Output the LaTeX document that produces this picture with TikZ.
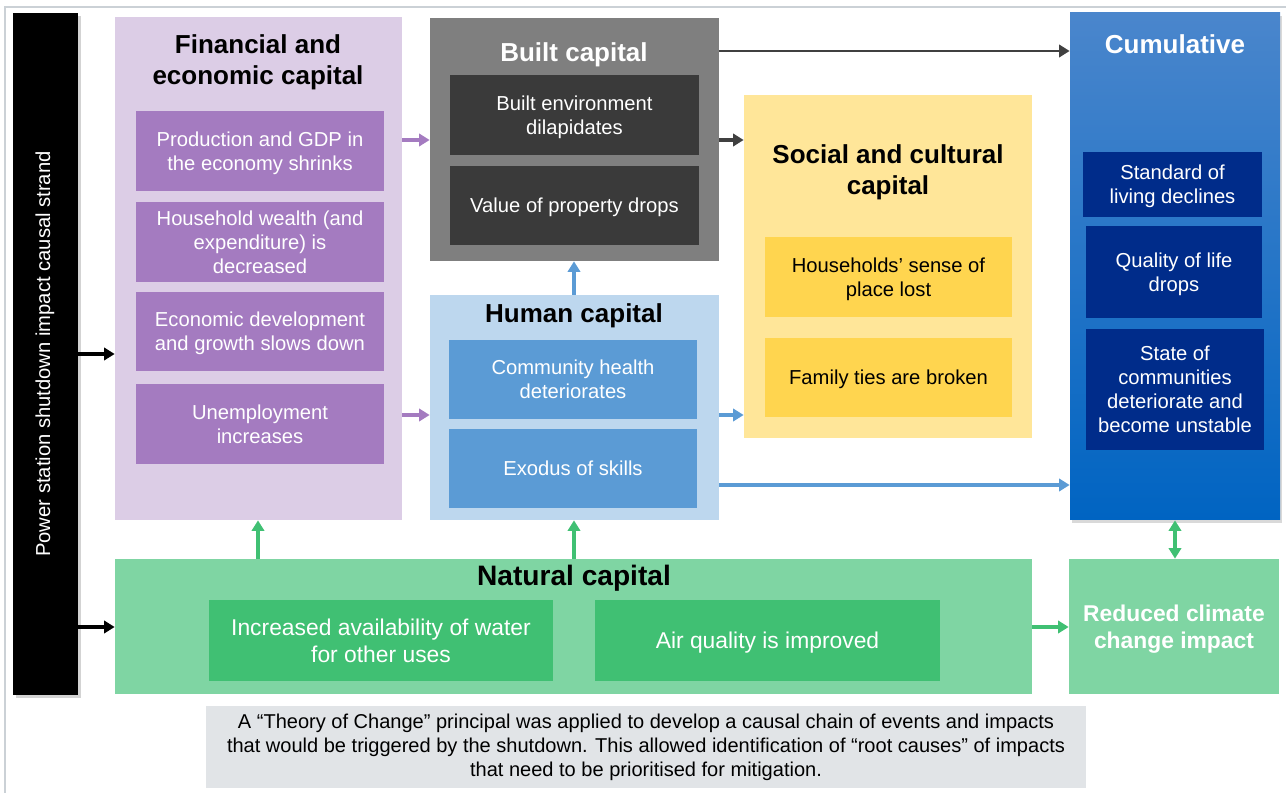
\documentclass[tikz,border=0pt]{standalone}
\usepackage{fontspec}
\setmainfont{Liberation Sans}
\usepackage{tikz}
\usetikzlibrary{arrows.meta,positioning,calc,fit,shadows}
\definecolor{FinBack}{HTML}{DCCDE6}
\definecolor{FinItem}{HTML}{A47BC0}
\definecolor{BuiltBack}{HTML}{7F7F7F}
\definecolor{BuiltItem}{HTML}{3A3A3A}
\definecolor{HumBack}{HTML}{BDD7EE}
\definecolor{HumItem}{HTML}{5B9BD5}
\definecolor{SocBack}{HTML}{FFE699}
\definecolor{SocItem}{HTML}{FFD54F}
\definecolor{CumTop}{HTML}{4A86CC}
\definecolor{CumBottom}{HTML}{0064C2}
\definecolor{CumItem}{HTML}{002C8A}
\definecolor{NatBack}{HTML}{7FD5A3}
\definecolor{NatItem}{HTML}{40C073}
\definecolor{NoteGrey}{HTML}{E1E4E7}
\definecolor{FrameGrey}{HTML}{CBD1D6}
\definecolor{ArrowGrey}{HTML}{404040}

\begin{document}
\begin{tikzpicture}[x=0.02cm, y=-0.02cm,
  every node/.style={font=\fontsize{11.5}{13.6}\selectfont, inner sep=0pt, align=center},
  captitle/.style={font=\bfseries\fontsize{14.8}{17.6}\selectfont},
  item/.style={minimum width=4.96cm, minimum height=1.6cm, text depth=0pt},
  link/.style={line width=2.1pt, -{Triangle[length=6pt,width=7pt]}}]
  \useasboundingbox (0,0) rectangle (1286,793);
  \draw[FrameGrey, line width=1.2pt] (5,793) -- (5,7) -- (1286,7);

  % causal strand
  \node (strand) [fill=black, drop shadow={opacity=0.35, shadow xshift=1.5pt, shadow yshift=-1.5pt}, fit={(13,13) (78,695)}] {};
  \node (strandtext) [rotate=90, text=white] at (45,354) {Power station shutdown impact causal strand};

  % financial and economic capital
  \node (fin) [fill=FinBack, fit={(115,17) (402,520)}] {};
  \node (fintitle) [captitle] at (258,62) {Financial and\\economic capital};
  \node (fin1) [item, fill=FinItem, text=white] at (260,151) {Production and GDP in\\the economy shrinks};
  \node (fin2) [item, fill=FinItem, text=white] at (260,242) {Household wealth (and\\expenditure) is\\decreased};
  \node (fin3) [item, fill=FinItem, text=white] at (260,331.5) {Economic development\\and growth slows down};
  \node (fin4) [item, fill=FinItem, text=white] at (260,424) {Unemployment\\increases};

  % built capital
  \node (built) [fill=BuiltBack, fit={(430,18) (719,261)}] {};
  \node (builttitle) [captitle, text=white] at (574,55) {Built capital};
  \node (built1) [item, minimum width=4.98cm, fill=BuiltItem, text=white] at (574.5,115) {Built environment\\dilapidates};
  \node (built2) [item, minimum width=4.98cm, fill=BuiltItem, text=white] at (574.5,205.5) {Value of property drops};

  % human capital
  \node (hum) [fill=HumBack, fit={(430,295) (719,520)}] {};
  \node (humtitle) [captitle] at (574,316) {Human capital};
  \node (hum1) [item, minimum height=1.58cm, fill=HumItem, text=white] at (573,379.5) {Community health\\deteriorates};
  \node (hum2) [item, minimum height=1.58cm, fill=HumItem, text=white] at (573,468.5) {Exodus of skills};

  % social and cultural capital
  \node (soc) [fill=SocBack, fit={(744,95) (1032,438)}] {};
  \node (soctitle) [captitle] at (888,172) {Social and cultural\\capital};
  \node (soc1) [item, minimum width=4.94cm, fill=SocItem] at (888.5,277) {Households’ sense of\\place lost};
  \node (soc2) [item, minimum width=4.94cm, fill=SocItem] at (888.5,377.5) {Family ties are broken};

  % cumulative
  \node (cum) [top color=CumTop, bottom color=CumBottom, drop shadow={opacity=0.3, shadow xshift=1pt, shadow yshift=-1.5pt}, fit={(1070,13) (1280,520)}] {};
  \node (cumtitle) [captitle, text=white] at (1175,44) {Cumulative};
  \node (cum1) [item, minimum width=3.58cm, minimum height=1.3cm, fill=CumItem, text=white] at (1172.5,184.5) {Standard of\\living declines};
  \node (cum2) [item, minimum width=3.52cm, minimum height=1.84cm, fill=CumItem, text=white] at (1174,272) {Quality of life\\drops};
  \node (cum3) [item, minimum width=3.56cm, minimum height=2.42cm, fill=CumItem, text=white] at (1175,389.5) {State of\\communities\\deteriorate and\\become unstable};

  % natural capital
  \node (nat) [fill=NatBack, fit={(115,559) (1032,694)}] {};
  \node (nattitle) [font=\bfseries\fontsize{16}{19}\selectfont] at (574,578) {Natural capital};
  \node (nat1) [minimum width=6.88cm, minimum height=1.62cm, fill=NatItem, text=white, font=\fontsize{13}{15.5}\selectfont] at (381,640.5) {Increased availability of water\\for other uses};
  \node (nat2) [item, minimum width=6.9cm, minimum height=1.62cm, fill=NatItem, text=white, font=\fontsize{13}{15.5}\selectfont] at (767.5,640.5) {Air quality is improved};
  \node (clim) [item, minimum width=4.2cm, minimum height=2.7cm, fill=NatBack, text=white, font=\bfseries\fontsize{13}{15.5}\selectfont] at (1174,626.5) {Reduced climate\\change impact};

  % note
  \node (note) [fill=NoteGrey, fit={(206,706) (1086,788)}] {};
  \node (notetext) [font=\fontsize{11.4}{13.6}\selectfont] at (646,747) {A “Theory of Change” principal was applied to develop a causal chain of events and impacts\\that would be triggered by the shutdown. This allowed identification of “root causes” of impacts\\that need to be prioritised for mitigation.};

  % arrow rows and columns
  \coordinate (rowTop) at (0,51);
  \coordinate (rowHigh) at (0,140);
  \coordinate (rowMid) at (0,354);
  \coordinate (rowLow) at (0,415);
  \coordinate (rowBase) at (0,485);
  \coordinate (rowNat) at (0,627);
  \coordinate (colFin) at (258,0);
  \coordinate (colHum) at (574,0);
  \coordinate (colCum) at (1175,0);

  \draw[link, black] (strand.east |- rowMid) -- (fin.west |- rowMid);
  \draw[link, black] (strand.east |- rowNat) -- (nat.west |- rowNat);
  \draw[link, FinItem] (fin.east |- rowHigh) -- (built.west |- rowHigh);
  \draw[link, FinItem] (fin.east |- rowLow) -- (hum.west |- rowLow);
  \draw[link, ArrowGrey] (built.east |- rowHigh) -- (soc.west |- rowHigh);
  \draw[link, ArrowGrey, line width=1.5pt] (built.east |- rowTop) -- (cum.west |- rowTop);
  \draw[link, HumItem] (hum.north -| colHum) -- (built.south -| colHum);
  \draw[link, HumItem] (hum.east |- rowLow) -- (soc.west |- rowLow);
  \draw[link, HumItem] (hum.east |- rowBase) -- (cum.west |- rowBase);
  \draw[link, NatItem] (nat.north -| colFin) -- (fin.south -| colFin);
  \draw[link, NatItem] (nat.north -| colHum) -- (hum.south -| colHum);
  \draw[link, NatItem] (nat.east |- rowNat) -- (clim.west |- rowNat);
  \draw[NatItem, line width=2.1pt, {Triangle[length=6pt,width=7pt]}-{Triangle[length=6pt,width=7pt]}] (clim.north -| colCum) -- (cum.south -| colCum);
\end{tikzpicture}
\end{document}
